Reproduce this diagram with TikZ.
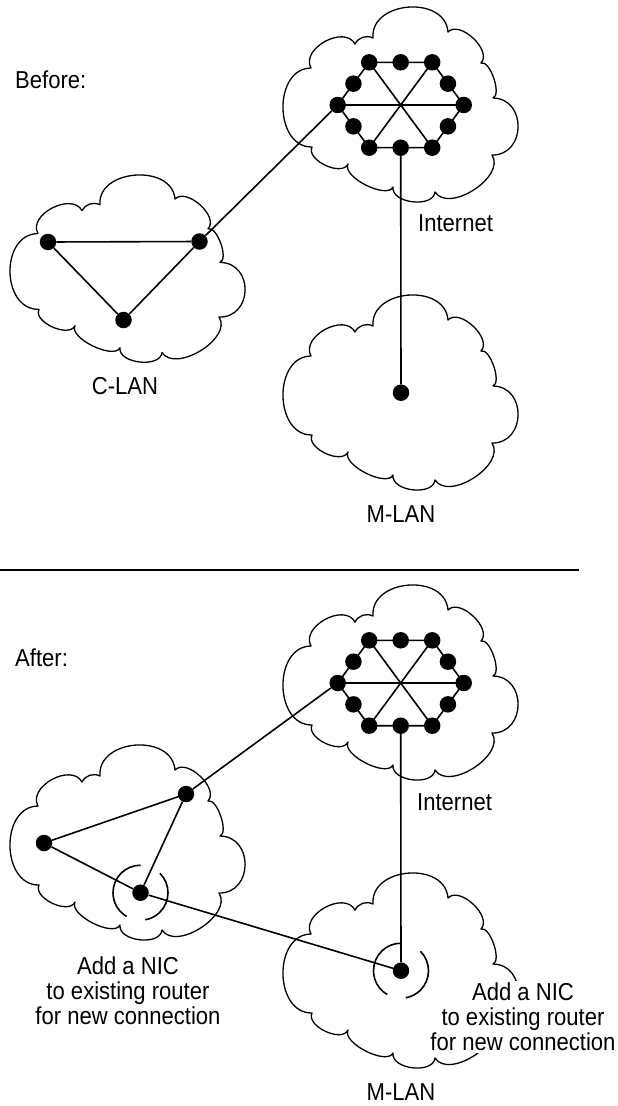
\documentclass[tikz,border=0pt]{standalone}
\usepackage{fontspec}
\setmainfont{Liberation Sans}[FakeStretch=0.9]

\begin{document}
\begin{tikzpicture}[x=1pt,y=1pt,
  font=\fontsize{24.5}{25}\selectfont,
  router/.style={circle,fill=black,inner sep=0pt,minimum size=16.5pt},
  link/.style={line width=1.6pt},
  cloudline/.style={line width=1.3pt,line join=round},
  nicarc/.style={line width=1.6pt},
  caption/.style={inner sep=0pt,anchor=base},
  note/.style={align=center,fill=white,inner sep=2pt,anchor=north},
  lancloud/.pic={
    \draw[cloudline] (28,-61) to[bend left=90,looseness=1.13] (72,-37)
      to[bend left=45] (90,-31)
      to[bend left=90,looseness=1.27] (165,-25)
      to[bend left=90,looseness=0.96] (198,-56)
      to[bend left=90,looseness=0.66] (210,-91)
      to[bend left=90,looseness=1.53] (209,-148)
      to[bend left=90,looseness=0.97] (152,-185)
      to[bend left=90,looseness=1.0] (110,-180)
      to[bend left=90,looseness=0.72] (65,-157)
      to[bend left=90,looseness=0.93] (29,-140)
      to[bend left=90,looseness=1.23] (28,-61) -- cycle;
  },
  internet/.pic={
    \foreach \a [count=\i from 0] in {0,60,...,300}
      \coordinate (-p\i) at (\a:63 and 49.3);
    \draw[link] (-p0) -- (-p1) -- (-p2) -- (-p3) -- (-p4) -- (-p5) -- cycle;
    \draw[link] (-p0) -- (-p3) (-p1) -- (-p4) (-p2) -- (-p5);
    \foreach \a [count=\i from 0] in {0,60,...,300} {
      \node[router] (-v\i) at (-p\i) {};
      \node[router] (-m\i) at (\a+30:54.56 and 42.7) {};
    }
  },
  nic/.pic={
    \draw[nicarc] (90:27.5) arc[start angle=90,end angle=240,radius=27.5];
    \draw[nicarc] (45:27.5) arc[start angle=45,end angle=-80,radius=27.5];
  }
]
  \useasboundingbox (0,0) rectangle (618,-1106);

  % before
  \pic at (283,-7) {lancloud};
  \pic[yscale=0.96] at (10,-175) {lancloud};
  \pic at (283,-295) {lancloud};
  \pic (inetA) at (400.7,-105) {internet};
  \node[router] (clanL) at (48,-242) {};
  \node[router] (clanR) at (199.5,-241.5) {};
  \node[router] (clanB) at (123.5,-320) {};
  \node[router] (mlanA) at (401,-392.7) {};
  \draw[link] (clanL) -- (clanR) -- (clanB) -- (clanL);
  \draw[link] (clanR) -- (inetA-v3);
  \draw[link] (inetA-m4) -- (mlanA);
  \node[caption,anchor=base west] (before) at (15,-88.7) {Before:};
  \node[caption] (clanlbl) at (125,-394) {C-LAN};
  \node[caption,anchor=base west] (inetlblA) at (418,-231.7) {Internet};
  \node[caption] (mlanlblA) at (401,-522) {M-LAN};

  \draw[link] (0,-570) -- (579,-570);

  % after
  \pic at (283,-585) {lancloud};
  \pic at (10,-745) {lancloud};
  \pic at (283,-873) {lancloud};
  \pic (inetB) at (400.7,-683) {internet};
  \node[router] (clanL2) at (44,-843) {};
  \node[router] (clanR2) at (186,-794) {};
  \node[router] (clanB2) at (140.5,-892.7) {};
  \node[router] (mlanB) at (401,-970.7) {};
  \draw[link] (clanL2) -- (clanR2) -- (clanB2) -- (clanL2);
  \draw[link] (clanR2) -- (inetB-v3);
  \draw[link] (inetB-m4) -- (mlanB);
  \draw[link] (clanB2) -- (mlanB);
  \pic at (clanB2) {nic};
  \pic at (mlanB) {nic};
  \node[caption,anchor=base west] (after) at (15,-666.7) {After:};
  \node[caption,anchor=base west] (inetlblB) at (417,-810) {Internet};
  \node[caption] (mlanlblB) at (401,-1100) {M-LAN};
  \node[note] (nicA) at (128,-954.5) {Add a NIC\\to existing router\\for new connection};
  \node[note] (nicB) at (523,-980.5) {Add a NIC\\to existing router\\for new connection};
\end{tikzpicture}
\end{document}
